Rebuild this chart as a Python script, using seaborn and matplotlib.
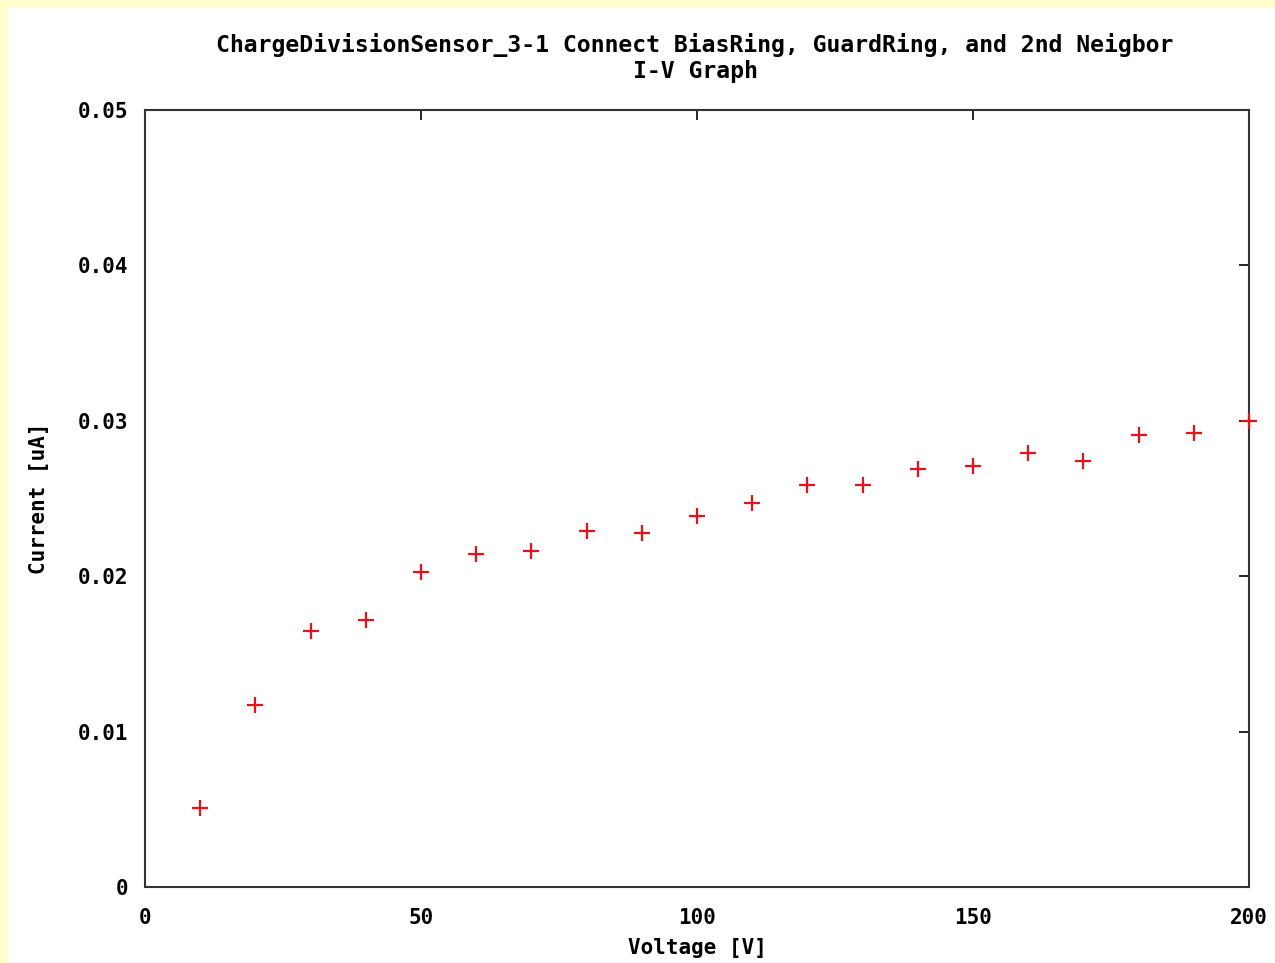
import matplotlib
matplotlib.use("Agg")
import matplotlib.pyplot as plt
import seaborn as sns
import pandas as pd
from matplotlib.patches import Rectangle

voltage = [10, 20, 30, 40, 50, 60, 70, 80, 90, 100, 110, 120, 130, 140, 150, 160, 170, 180, 190, 200]
current = [0.0051, 0.0117, 0.0165, 0.0172, 0.0203, 0.0214, 0.0216, 0.0229, 0.0228, 0.0239,
           0.0247, 0.0259, 0.0259, 0.0269, 0.0271, 0.0279, 0.0274, 0.0291, 0.0292, 0.0300]
xticks = [0, 50, 100, 150, 200]
yticks = [0, 0.01, 0.02, 0.03, 0.04, 0.05]
ytick_labels = ["0", "0.01", "0.02", "0.03", "0.04", "0.05"]
title = "ChargeDivisionSensor_3-1 Connect BiasRing, GuardRing, and 2nd Neigbor\nI-V Graph"

sns.set_theme(style="white")
plt.rcParams["font.family"] = ["DejaVu Sans Mono"]
plt.rcParams["font.weight"] = "bold"
plt.rcParams["text.color"] = "black"
plt.rcParams["axes.labelcolor"] = "black"

df = pd.DataFrame({"Voltage": voltage, "Current": current})

fig = plt.figure(figsize=(12.75, 9.63), dpi=100, facecolor="#FFFFCC")
bg = Rectangle((8 / 1275, 0), 1 - 8 / 1275, 1 - 7 / 963,
               transform=fig.transFigure, facecolor="white", edgecolor="none")
fig.add_artist(bg)
bg.set_zorder(-10)
ax = fig.add_axes([145 / 1275, 76 / 963, 1104 / 1275, 777 / 963])
ax.set_zorder(1)
ax.set_facecolor("white")

sns.scatterplot(data=df, x="Voltage", y="Current", marker="+", color="#E8101A",
                s=140, linewidth=1.6, ax=ax, clip_on=False, zorder=5)

ax.set_xlim(0, 200)
ax.set_ylim(0, 0.05)
ax.set_xticks(xticks)
ax.set_xticklabels([str(t) for t in xticks])
ax.set_yticks(yticks)
ax.set_yticklabels(ytick_labels)
ax.tick_params(direction="in", length=7, width=1.2, top=True, right=True,
               labelsize=15, colors="black")
ax.tick_params(axis="y", pad=12)
ax.tick_params(axis="x", pad=15)
for lab in ax.get_xticklabels() + ax.get_yticklabels():
    lab.set_fontweight("bold")
for sp in ax.spines.values():
    sp.set_visible(True)
    sp.set_color("#333333")
    sp.set_linewidth(1.5)

ax.set_xlabel("Voltage [V]", fontsize=15, fontweight="bold", labelpad=7)
ax.set_ylabel("Current [uA]", fontsize=15, fontweight="bold", labelpad=21)
fig.text(695 / 1275, 1 - 58 / 963, title, ha="center", va="center",
         fontsize=16.7, fontweight="bold", linespacing=1.2)

fig.savefig("out.png", dpi=100, facecolor=fig.get_facecolor())
